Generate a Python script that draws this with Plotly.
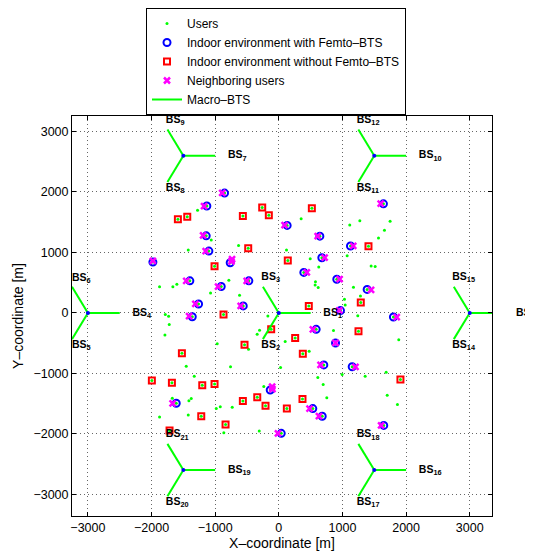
import math
import plotly.graph_objects as go

FONT = "Liberation Sans, Arial, Helvetica, sans-serif"

# ---- data (metres) ----
# outdoor users (green dots)
user_x = [-1277, -1062, -1423, -633, 351, 121, 493, 628, 1273, 1115, 1749, 1660, 1566, 1074, 1451, 1514,
          -1874, -1665, -1602, -785, -1073, -617, -1784, -1732, -1722, -1790, -968, -476, -172, -303, -340,
          576, 571, 619, 1173, 1283, 1032, 1043, 1241, 859, 100, 1885, 477,
          -1455, -759, -1329, -1674, -1376, -1413, -1874, -1423, -983, -920, -732, -864, -236, -308,
          27, 995, 1687, 613, 697, 754, 1357, 1703, 1864]
user_y = [1698, 1206, 1038, 1116, 1557, 1038, 896, 761, 1525, 1453, 1515, 1368, 1237, 944, 777, 766,
          431, 431, 472, 541, 330, 294, -25, -57, -193, -366, -508, -602, -52, -288, -351,
          514, 462, 420, 425, 278, 226, 132, -47, -292, -471, -445, -634,
          -880, -890, -1047, -1409, -1415, -1451, -1719, -1687, -1582, -1551, -1561, -1981, -1215, -1954,
          -901, -1016, -980, -1069, -1184, -1404, -1047, -1362, -1514]

# indoor environment with Femto-BTS (blue circles)
femto_x = [-853, -1131, -1141, -1099, -1979, -764, 131, 645, 676, 393, 1644, 1126, -1398, -905, -471, -1261,
           -559, -1360, 911, 1388, 969, 1801, 587, 891, 707, 1153, 534, 682, 1649, 38, -1612, -135]
femto_y = [1981, 1767, 1274, 1022, 840, 829, 1447, 1269, 912, 670, 1803, 1107, 530, 436, 530, 148,
           116, -63, 557, 388, 38, -68, -272, -497, -859, -890, -1582, -1708, -1860, -1991, -1494, -1274]

# indoor environment without Femto-BTS (red squares)
nofemto_x = [-1586, -1439, -565, -261, -157, -481, -1010, 519, 141, 1409, -869, -539, -120, -1523, 471, 1288,
             1252, 257, 377, -1995, -1680, -1203, -1010, -1219, -837, -1717, -565, -339, -209, 1911, 372, 126]
nofemto_y = [1547, 1588, 1604, 1741, 1615, 1069, 770, 1730, 865, 1101, -25, -528, -272, -665, 116, 173,
             -303, -414, -676, -1116, -1153, -1195, -1173, -1708, -1844, -1944, -1456, -1393, -1535, -1100, -1425, -1582]

# neighbouring users (magenta crosses)
neigh_x = [-890, -1175, -1190, -1150, -1979, -745, -735, 90, 610, 720, 440, 1600, 1170, -1455, -955, -505,
           -1312, -600, -1410, 955, 1450, 950, 1853, 535, 891, 655, 1205, 482, 630, 1607, -14, -1670, -105, -100]
neigh_y = [1985, 1767, 1280, 1022, 862, 850, 890, 1452, 1269, 912, 670, 1808, 1107, 530, 436, 530,
           148, 116, -55, 557, 380, 40, -68, -272, -497, -859, -890, -1582, -1708, -1860, -1991, -1494, -1220, -1260]

# macro sites and their three sector labels (right, upper-left, lower-left)
site_x = [0, -3000, -1500, 1500, 3000, -1500, 1500]
site_y = [0, 0, 2598, 2598, 0, -2598, -2598]
site_labels = [(1, 3, 2), (4, 6, 5), (7, 9, 8), (10, 12, 11), (13, 15, 14), (19, 21, 20), (16, 18, 17)]

tick_vals = [-3000, -2000, -1000, 0, 1000, 2000, 3000]

# ---- styling constants ----
X_RANGE = [-3250, 3350]
Y_RANGE = [-3357, 3255]
SECTOR_LEN = 500
SECTOR_ANGLES = [0, 120, 240]
LABEL_OFFSETS = [(700, 0), (-275, 585), (-275, -535)]
LABEL_FONT = dict(family=FONT, size=10.5, color="black")

GREEN = "#00ff00"

fig = go.Figure()

fig.add_trace(go.Scatter(
    x=user_x + femto_x + nofemto_x, y=user_y + femto_y + nofemto_y,
    mode="markers", name="Users",
    marker=dict(color=GREEN, size=3, symbol="circle", line=dict(width=0)),
))
fig.add_trace(go.Scatter(
    x=femto_x, y=femto_y, mode="markers", name="Indoor environment with Femto\u2013BTS",
    marker=dict(color="#0000ff", size=7, symbol="circle-open", line=dict(width=2, color="#0000ff")),
))
fig.add_trace(go.Scatter(
    x=nofemto_x, y=nofemto_y, mode="markers", name="Indoor environment without Femto\u2013BTS",
    marker=dict(color="#ff0000", size=6, symbol="square-open", line=dict(width=2, color="#ff0000")),
))
fig.add_trace(go.Scatter(
    x=neigh_x, y=neigh_y, mode="markers", name="Neighboring users",
    marker=dict(color="#ff00ff", size=6, symbol="x-thin", line=dict(width=2.5, color="#ff00ff")),
))

# sector lines
lx, ly = [], []
for sx, sy in zip(site_x, site_y):
    for a in SECTOR_ANGLES:
        r = math.radians(a)
        lx += [sx, sx + SECTOR_LEN * math.cos(r), None]
        ly += [sy, sy + SECTOR_LEN * math.sin(r), None]
fig.add_trace(go.Scatter(
    x=lx, y=ly, mode="lines", name="Macro\u2013BTS",
    line=dict(color=GREEN, width=2),
))
fig.add_trace(go.Scatter(
    x=site_x, y=site_y, mode="markers", showlegend=False, hoverinfo="skip",
    marker=dict(color="#0000ff", size=4),
))

# sector labels: inside the axes as a text trace, outside (clipped page edge) as paper annotations
tx, ty, tt = [], [], []
annotations = []
for sx, sy, labs in zip(site_x, site_y, site_labels):
    for (dx, dy), n in zip(LABEL_OFFSETS, labs):
        lxp, lyp = sx + dx, sy + dy
        label = f"<b>BS<sub>{n}</sub></b>"
        if X_RANGE[0] <= lxp <= X_RANGE[1] and Y_RANGE[0] <= lyp <= Y_RANGE[1]:
            tx.append(lxp)
            ty.append(lyp)
            tt.append(label)
        else:
            annotations.append(dict(
                x=(lxp - X_RANGE[0]) / (X_RANGE[1] - X_RANGE[0]),
                y=(lyp - Y_RANGE[0]) / (Y_RANGE[1] - Y_RANGE[0]),
                xref="paper", yref="paper", xanchor="left", yanchor="middle",
                text=label, showarrow=False, font=LABEL_FONT,
            ))
fig.add_trace(go.Scatter(
    x=tx, y=ty, text=tt, mode="text", textposition="middle right", showlegend=False,
    cliponaxis=False, hoverinfo="skip", textfont=LABEL_FONT,
))

# page has an 8px body margin, so the figure is 8px smaller than the window
W, H = 525, 544
L, R, T, B = 64, 41, 108, 36
plot_h = H - T - B
plot_w = W - L - R

axis_common = dict(
    tickvals=tick_vals, tickfont=dict(family=FONT, size=12.5, color="black"),
    showgrid=True, gridcolor="rgba(0,0,0,0.6)", griddash="1px,3px", gridwidth=1,
    zeroline=False, showline=True, linecolor="black", linewidth=1, mirror="ticks",
    ticks="inside", ticklen=4, tickcolor="black", automargin=False,
)

fig.update_layout(
    template="none",
    width=W, height=H,
    margin=dict(l=L, r=R, t=T, b=B, autoexpand=False),
    paper_bgcolor="white", plot_bgcolor="white",
    font=dict(family=FONT, color="black"),
    xaxis=dict(range=X_RANGE, title=dict(text="X\u2013coordinate [m]", font=dict(size=14), standoff=2),
               **axis_common),
    yaxis=dict(range=Y_RANGE, title=dict(text="Y\u2013coordinate [m]", font=dict(size=14), standoff=6),
               **axis_common),
    legend=dict(
        x=(138 - L) / plot_w, y=1 + T / plot_h, xanchor="left", yanchor="top",
        bgcolor="white", bordercolor="black", borderwidth=1,
        font=dict(family=FONT, size=12, color="black"), tracegroupgap=0,
    ),
    annotations=annotations,
    showlegend=True,
)

fig.write_html("out.html")
